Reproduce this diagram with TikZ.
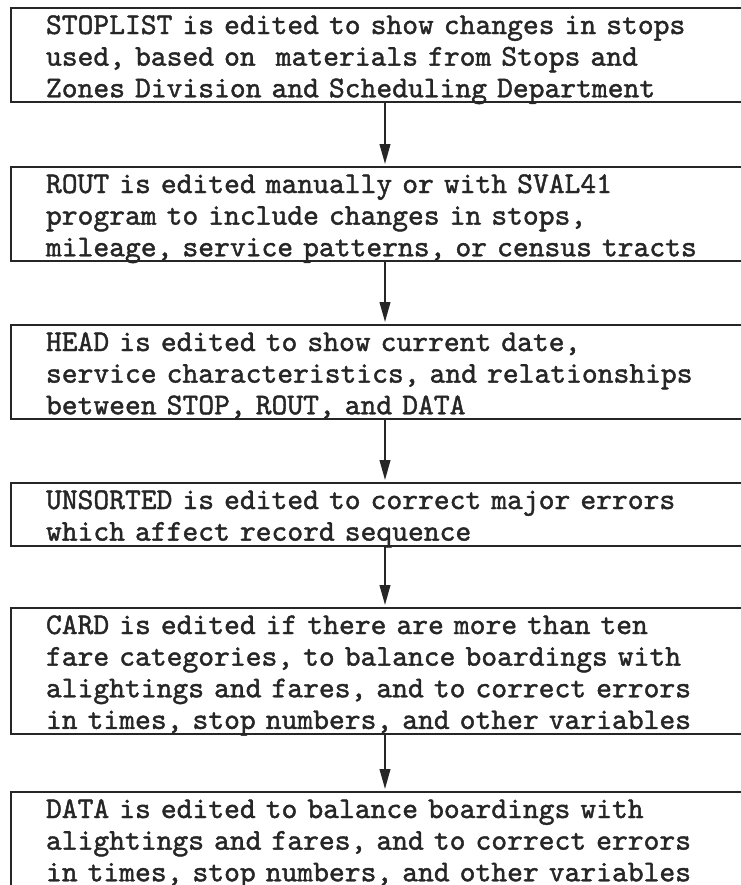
\documentclass[tikz,border=0pt]{standalone}
\usepackage{fontspec}
\usepackage{tikz}
\usetikzlibrary{arrows.meta}

\newfontfamily\typewriter{lmmono10-regular.otf}[FakeBold=1.4]
\setlength{\parindent}{0pt}
% one text line: fixed height and depth, so the box edges sit where the old sheet has them
\newcommand{\row}[1]{\rule[-1.5mm]{0pt}{9.3mm}\smash{#1}}

\begin{document}
\begin{tikzpicture}[
    stepbox/.style={draw=black!85, line width=0.6mm, anchor=north west, text=black!85,
        inner xsep=10.5mm, inner ysep=0pt, text width=210mm, align=left,
        font=\typewriter\fontsize{25.7}{27}\selectfont},
    flow/.style={draw=black!85, line width=0.6mm, -{Triangle[width=3.2mm,length=6mm]}, shorten >=0.6mm}]
    \useasboundingbox (0,0) rectangle (222.3mm,-265.5mm);
    \clip (0,0) rectangle (222.3mm,-265.5mm);
    \coordinate (spine) at (115.5mm,0);

    \node[stepbox] (stoplist) at (3mm,-2.1mm) {\row{STOPLIST is edited to show changes in stops}\\
        \row{used, based on\ \ materials from Stops and}\\
        \row{Zones Division and Scheduling Department}};
    \node[stepbox] (rout) at (3mm,-49.8mm) {\row{ROUT is edited manually or with SVAL41}\\
        \row{program to include changes in stops,}\\
        \row{mileage, service patterns, or census tracts}};
    \node[stepbox] (head) at (3mm,-97.2mm) {\row{HEAD is edited to show current date,}\\
        \row{service characteristics, and relationships}\\
        \row{between STOP, ROUT, and DATA}};
    \node[stepbox] (unsorted) at (3mm,-144.6mm) {\row{UNSORTED is edited to correct major errors}\\
        \row{which affect record sequence}};
    \node[stepbox] (card) at (3mm,-182.1mm) {\row{CARD is edited if there are more than ten}\\
        \row{fare categories, to balance boardings with}\\
        \row{alightings and fares, and to correct errors}\\
        \row{in times, stop numbers, and other variables}};
    \node[stepbox] (data) at (3mm,-237.3mm) {\row{DATA is edited to balance boardings with}\\
        \row{alightings and fares, and to correct errors}\\
        \row{in times, stop numbers, and other variables}};

    \draw[flow] (stoplist.south -| spine) -- (rout.north -| spine);
    \draw[flow] (rout.south -| spine) -- (head.north -| spine);
    \draw[flow] (head.south -| spine) -- (unsorted.north -| spine);
    \draw[flow] (unsorted.south -| spine) -- (card.north -| spine);
    \draw[flow] (card.south -| spine) -- (data.north -| spine);
\end{tikzpicture}
\end{document}
